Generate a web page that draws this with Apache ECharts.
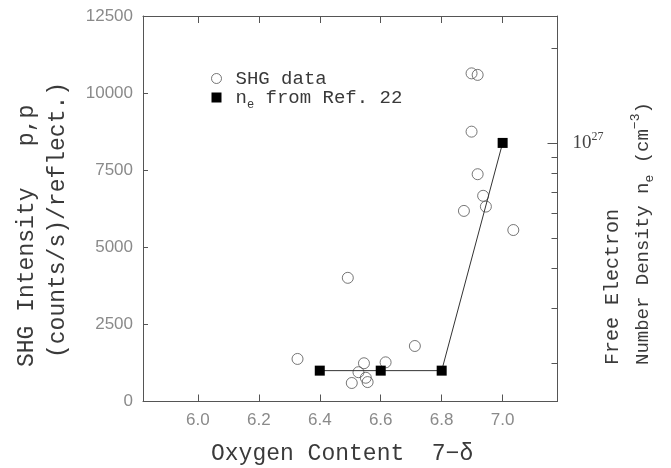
<!DOCTYPE html>
<html>
<head>
<meta charset="utf-8">
<script src="https://cdn.jsdelivr.net/npm/echarts@6/dist/echarts.min.js"></script>
<style>
  html, body { margin: 0; padding: 0; background: #fff; }
  #chart { width: 671px; height: 468px; }
</style>
</head>
<body>
<div id="chart"></div>
<script>
// SHG data (open circles), left axis
const shgX = [6.898, 6.918, 6.898, 6.918, 6.936, 6.945, 6.873, 7.035, 6.492, 6.712, 6.327, 6.545, 6.616, 6.527, 6.551, 6.505, 6.557];
const shgY = [10640, 10590, 8750, 7370, 6670, 6320, 6180, 5560, 4010, 1800, 1380, 1240, 1270, 950, 770, 600, 630];
// n_e from Ref. 22 (filled squares), right log axis
const neX = [6.4, 6.6, 6.8, 7.0];
const neY = [1.9e26, 1.9e26, 1.9e26, 1.0e27];
// ticks
const xTicks = [6.0, 6.2, 6.4, 6.6, 6.8, 7.0];
const leftTicks = [0, 2500, 5000, 7500, 10000, 12500];
const rightMajor = [1e27];
const rightMinor = [2e26, 3e26, 4e26, 5e26, 6e26, 7e26, 8e26, 9e26, 2e27];

const mono = "'Liberation Mono', monospace";
const serif = "'Liberation Serif', serif";
const sans = "'Liberation Sans', sans-serif";
const ink = "#3a3a3a";
const lg = Math.log10;

const chart = echarts.init(document.getElementById("chart"));

// right axis is log; plotted as log10 on a linear axis
const rMin = 26.181, rMax = 27.402;

chart.setOption({
  animation: false,
  backgroundColor: "#fff",
  grid: { left: 143, top: 16, width: 414.5, height: 385.5, outerBoundsMode: "none" },
  legend: {
    orient: "vertical",
    left: 211,
    top: 69,
    padding: 0,
    itemWidth: 10,
    itemHeight: 10,
    itemGap: 0,
    textStyle: {
      fontFamily: mono, fontSize: 19, color: ink, padding: [0, 0, 0, 9],
      rich: { sub: { fontFamily: mono, fontSize: 12, color: ink, padding: [14, 0, 0, 0] } }
    },
    formatter: n => (n === "ne" ? "n{sub|e} from Ref. 22" : n),
    data: [
      { name: "SHG data", icon: "circle", itemStyle: { color: "#fff", borderColor: "#555", borderWidth: 1 } },
      { name: "ne", icon: "rect", itemStyle: { color: "#000", borderWidth: 0 } }
    ]
  },
  xAxis: [
    {
      type: "value", min: 5.82, max: 7.18, position: "bottom",
      axisLine: { show: true, lineStyle: { color: "#555", width: 1 } },
      axisTick: { show: true, inside: true, length: 7, customValues: xTicks, lineStyle: { color: "#555" } },
      axisLabel: {
        customValues: xTicks, margin: 10, color: "#8a8a8a", fontSize: 17, fontFamily: sans,
        formatter: v => v.toFixed(1)
      },
      splitLine: { show: false }
    },
    {
      type: "value", min: 5.82, max: 7.18, position: "top",
      axisLine: { show: true, lineStyle: { color: "#555", width: 1 } },
      axisTick: { show: true, inside: true, length: 7, customValues: xTicks, lineStyle: { color: "#555" } },
      axisLabel: { show: false },
      splitLine: { show: false }
    }
  ],
  yAxis: [
    {
      type: "value", min: 0, max: 12500, position: "left",
      axisLine: { show: true, lineStyle: { color: "#555", width: 1 } },
      axisTick: { show: true, inside: true, length: 5, customValues: leftTicks, lineStyle: { color: "#555" } },
      axisLabel: {
        customValues: leftTicks, margin: 10, color: "#8a8a8a", fontSize: 17, fontFamily: sans,
        formatter: v => String(v)
      },
      splitLine: { show: false }
    },
    {
      type: "value", min: rMin, max: rMax, position: "right",
      axisLine: { show: true, lineStyle: { color: "#555", width: 1 } },
      axisTick: { show: true, inside: true, length: 10, customValues: rightMajor.map(lg), lineStyle: { color: "#555" } },
      axisLabel: {
        customValues: rightMajor.map(lg), margin: 15, color: "#444", fontFamily: serif, fontSize: 19,
        formatter: v => "10{sup|" + Math.round(v) + "}",
        rich: { sup: { fontFamily: serif, fontSize: 12, color: "#444", padding: [0, 0, 12, 0] } }
      },
      splitLine: { show: false }
    },
    {
      type: "value", min: rMin, max: rMax, position: "right",
      axisLine: { show: false },
      axisTick: { show: true, inside: true, length: 6, customValues: rightMinor.map(lg), lineStyle: { color: "#555" } },
      axisLabel: { show: false },
      splitLine: { show: false }
    }
  ],
  series: [
    {
      name: "SHG data",
      type: "scatter",
      xAxisIndex: 0, yAxisIndex: 0,
      symbol: "circle",
      symbolSize: 11,
      itemStyle: { color: "rgba(255,255,255,0)", borderColor: "#555", borderWidth: 1 },
      data: shgX.map((x, i) => [x, shgY[i]])
    },
    {
      name: "ne",
      type: "line",
      xAxisIndex: 0, yAxisIndex: 1,
      symbol: "rect",
      symbolSize: 10,
      itemStyle: { color: "#000" },
      lineStyle: { color: "#333", width: 1 },
      data: neX.map((x, i) => [x, lg(neY[i])])
    }
  ],
  graphic: [
    {
      type: "text", x: 211, y: 454,
      style: { text: "Oxygen Content  7\u2212\u03b4", fontFamily: mono, fontSize: 23, fill: ink, align: "left", verticalAlign: "middle" }
    },
    {
      type: "text", x: 27, y: 367, rotation: Math.PI / 2,
      style: { text: "SHG Intensity   p,p", fontFamily: mono, fontSize: 23, fill: ink, align: "left", verticalAlign: "middle" }
    },
    {
      type: "text", x: 58, y: 358, rotation: Math.PI / 2,
      style: { text: "(counts/s)/reflect.)", fontFamily: mono, fontSize: 23, fill: ink, align: "left", verticalAlign: "middle" }
    },
    {
      type: "text", x: 613, y: 365, rotation: Math.PI / 2,
      style: { text: "Free Electron", fontFamily: mono, fontSize: 20, fill: ink, align: "left", verticalAlign: "middle" }
    },
    {
      type: "text", x: 643, y: 365, rotation: Math.PI / 2,
      style: {
        text: "Number Density n{sub|e} (cm{sup|\u22123})", fontFamily: mono, fontSize: 19, fill: ink, align: "left", verticalAlign: "middle",
        rich: {
          sub: { fontFamily: mono, fontSize: 13, fill: ink, padding: [14, 0, 0, 0] },
          sup: { fontFamily: mono, fontSize: 13, fill: ink, padding: [0, 0, 14, 0] }
        }
      }
    }
  ]
});
</script>
</body>
</html>
